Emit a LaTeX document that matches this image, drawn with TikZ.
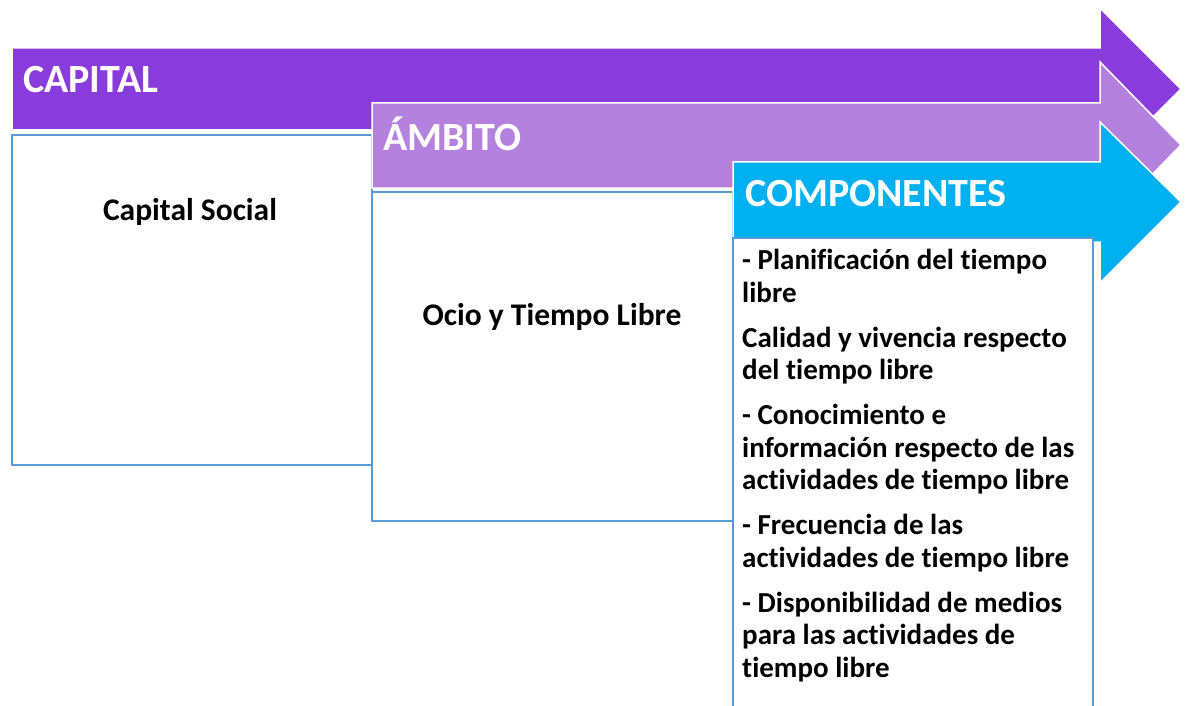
\documentclass[tikz,border=0pt]{standalone}
\usepackage{fontspec}
\setmainfont{Carlito}[Ligatures=CommonOff]
\usepackage{tikz}
\definecolor{capitalPurple}{RGB}{138,59,219}
\definecolor{ambitoLilac}{RGB}{180,130,222}
\definecolor{componentesCyan}{RGB}{0,176,240}
\definecolor{panelBlue}{RGB}{91,155,213}
\tikzset{
	arrow band/.style={
		draw=white,
		line width=1.5pt,
		line join=miter
	},
	panel/.style={
		draw=panelBlue,
		fill=white,
		line width=2pt
	},
	band title/.style={
		anchor=base west,
		inner sep=0pt,
		text=white,
		font=\bfseries\fontsize{40}{48}\selectfont
	},
	panel text/.style={
		inner sep=0pt,
		font=\bfseries\fontsize{31.5}{38}\selectfont
	},
	list text/.style={
		inner sep=0pt,
		align=left,
		font=\bfseries\fontsize{29}{32.5}\selectfont
	},
}

\begin{document}
\begin{tikzpicture}[x=1pt,y=-1pt]
\useasboundingbox (0,0) rectangle (1189,706);
\clip (0,0) rectangle (1189,706);

% capital
\path[arrow band, fill=capitalPurple] (12,48) -- (1100,48) -- (1100,8) -- (1181,89)
	-- (1100,170) -- (1100,130) -- (12,130) -- cycle;
\draw[panel] (12,135) rectangle (372,465);
	\node[band title] (capital) at (23,93) {CAPITAL};
	\node[panel text, anchor=base] (capitalSocial) at (190,220) {Capital Social};

% ambito
\path[arrow band, fill=ambitoLilac] (372,103) -- (1100,103) -- (1100,62) -- (1181,145)
	-- (1100,228) -- (1100,188) -- (372,188) -- cycle;
\draw[panel] (372,192) rectangle (733,521);
	\node[band title] (ambito) at (383,150) {ÁMBITO};
	\node[panel text, anchor=base] (ocio) at (552,325) {Ocio y Tiempo Libre};

% componentes (base of the node = last line)
\path[arrow band, fill=componentesCyan] (733,162) -- (1100,162) -- (1100,122) -- (1181,202)
	-- (1100,283) -- (1100,242) -- (733,242) -- cycle;
\draw[panel] (733,238) rectangle (1093,730);
	\node[band title] (componentes) at (745,207) {COMPONENTES};
	\node[list text, anchor=base west] (componentesList) at (742,677)
		{- Planificación del tiempo\\ libre\\[12.5pt]
		Calidad y vivencia respecto\\ del tiempo libre\\[12.5pt]
		- Conocimiento e\\ información respecto de las\\ actividades de tiempo libre\\[12.5pt]
		- Frecuencia de las\\ actividades de tiempo libre\\[12.5pt]
		- Disponibilidad de medios\\ para las actividades de\\ tiempo libre};

\end{tikzpicture}
\end{document}
